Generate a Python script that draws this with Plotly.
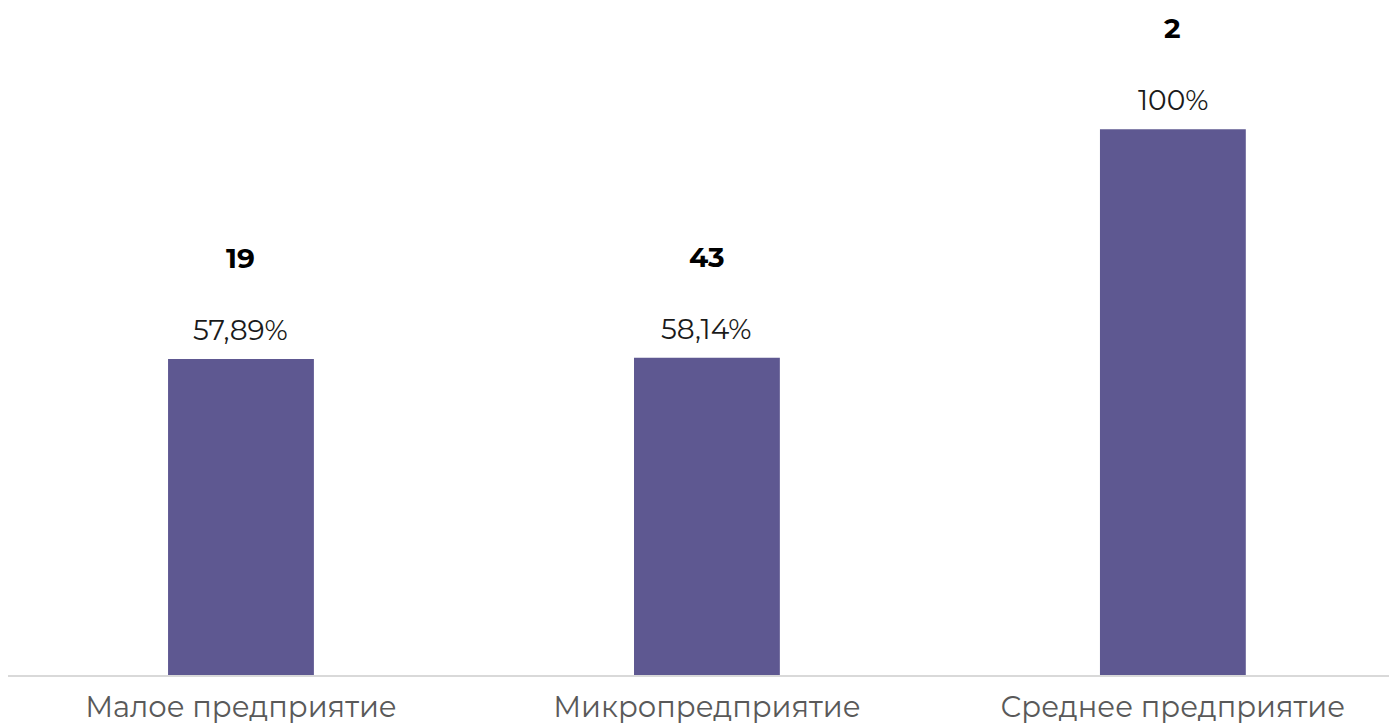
import plotly.graph_objects as go

categories = ["Малое предприятие", "Микропредприятие", "Среднее предприятие"]
shares = [57.89, 58.14, 100.0]
share_labels = ["57,89%", "58,14%", "100%"]
counts = [19, 43, 2]

bar_color = "#5e5891"
font_family = "Montserrat, 'Open Sans', sans-serif"

fig = go.Figure()
fig.add_trace(go.Bar(
    x=categories, y=shares, marker_color=bar_color, marker_line_width=0,
    hoverinfo="skip",
))

for c, v, lab, n in zip(categories, shares, share_labels, counts):
    fig.add_annotation(x=c, y=v, text=lab, showarrow=False, yanchor="middle",
                       yshift=29, font=dict(size=28, color="#1a1a1a", family=font_family))
    fig.add_annotation(x=c, y=v, text=f"<b>{n}</b>", showarrow=False, yanchor="middle",
                       yshift=101, font=dict(size=28, color="#000000", family=font_family))

fig.update_layout(
    width=1389, height=720,
    margin=dict(l=0, r=0, t=0, b=53),
    plot_bgcolor="white", paper_bgcolor="white",
    bargap=0.687,
    showlegend=False,
    font=dict(family=font_family),
)
fig.update_xaxes(
    range=[-0.5, 2.481],
    showline=True, linecolor="#d9d9d9", linewidth=2,
    showgrid=False, ticks="",
    tickfont=dict(size=29, color="#595959", family=font_family),
    ticklabelstandoff=5,
)
fig.update_yaxes(range=[0, 122.2], visible=False, showgrid=False, zeroline=False)

fig.write_html("out.html")
